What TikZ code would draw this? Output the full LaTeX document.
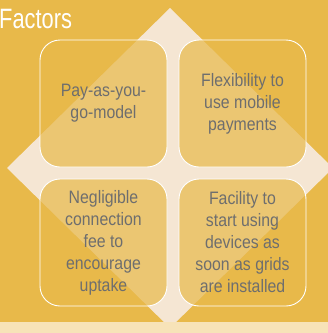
\documentclass[tikz,border=0pt]{standalone}
\usepackage{fontspec}
\setmainfont{Liberation Sans}
\newfontfamily\bodyfont[FakeStretch=0.88]{Liberation Sans}
\newfontfamily\titlefont[FakeStretch=0.78]{Liberation Sans}
\definecolor{gold}{HTML}{E8B94A}
\definecolor{cream}{HTML}{F5E6D3}
\definecolor{strip}{HTML}{F7E3B8}
\definecolor{txt}{HTML}{6E6E6E}
\begin{document}
\begin{tikzpicture}[x=1pt,y=-1pt,
  box/.style={draw=white, line width=0.9pt, fill=gold, fill opacity=0.7, draw opacity=1, text opacity=1,
    rounded corners=20pt, minimum width=127pt, minimum height=127pt, inner sep=0pt,
    align=center, text=txt, font=\bodyfont\fontsize{18}{22}\selectfont},
  titletext/.style={text=white, inner sep=0pt, font=\titlefont\fontsize{28}{32}\selectfont}]
\useasboundingbox (0,0) rectangle (328,333);
\fill[gold] (0,0) rectangle (328,333);
\fill[cream] (170,8) -- (333,168) -- (170,328) -- (7,168) -- cycle;
\fill[strip] (0,322) rectangle (328,333);
\node[box] (b1) at (103.5,103.5) {Pay-as-you-\\go-model};
\node[box] (b2) at (242.5,103.5) {Flexibility to\\use mobile\\payments};
\node[box] (b3) at (103.5,242.5) {Negligible\\connection\\fee to\\encourage\\uptake};
\node[box] (b4) at (242.5,242.5) {Facility to\\start using\\devices as\\soon as grids\\are installed};
\node[titletext, anchor=base west] (t) at (-1,28) {Factors};
\end{tikzpicture}
\end{document}
